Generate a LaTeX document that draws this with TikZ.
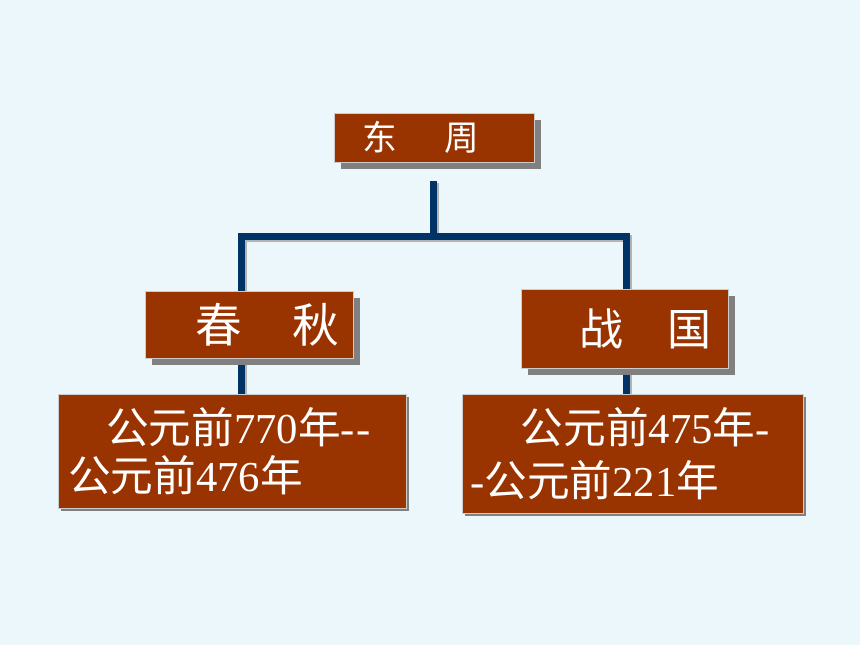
\documentclass[tikz,border=0pt]{standalone}
\usepackage{fontspec}
\setmainfont{Liberation Serif}
\newfontfamily\cjk{Noto Sans CJK SC}
\usetikzlibrary{shadows,backgrounds}
\definecolor{slideback}{RGB}{236,247,252}
\definecolor{periodred}{RGB}{153,51,0}
\definecolor{treeline}{RGB}{0,51,102}
\definecolor{boxshadow}{RGB}{128,128,128}

\begin{document}
\begin{tikzpicture}[x=0.75pt,y=-0.75pt,
  box/.style={fill=periodred,draw=gray!40,line width=0.4pt,text=white,
    anchor=north west,inner xsep=0pt,inner ysep=0pt,align=left},
  period/.style={box,drop shadow={shadow xshift=5.25pt,shadow yshift=-5.25pt,fill=boxshadow,opacity=1}},
  dates/.style={box,drop shadow={shadow xshift=2.25pt,shadow yshift=-2.25pt,fill=boxshadow,opacity=1},
    font=\cjk\fontsize{32}{36}\selectfont},
  link/.style={draw=treeline,line width=5.25pt,
    preaction={draw=boxshadow!60,line width=5.25pt,transform canvas={shift={(1.5pt,-1.5pt)}}}}]
\useasboundingbox (0,0) rectangle (860,645);

% dynasty
\node [period,text width=150pt,minimum height=36.75pt,font=\cjk\fontsize{26}{30}\selectfont]
  (dongzhou) at (334,113) {\hspace*{21.5pt}东\hspace{35.5pt}周};

% the two periods
\node [period,text width=156pt,minimum height=50.25pt,font=\cjk\fontsize{35}{40}\selectfont]
  (chunqiu) at (145,291) {\hspace*{38pt}春\hspace{37.75pt}秋};
\node [period,text width=155.25pt,minimum height=59.25pt,font=\cjk\fontsize{33}{38}\selectfont]
  (zhanguo) at (521,289) {\hspace*{44pt}战\hspace{33pt}国};

% years
\node [dates,text width=261pt,minimum height=85.5pt]
  (chunqiudate) at (58,394)
  {\hspace*{36pt}公元前{\rmfamily 770}年{\rmfamily -\kern1pt-}\\
   \hspace*{7.5pt}公元前{\rmfamily 476}年};
\node [dates,text width=255.75pt,minimum height=89.25pt,
  font=\cjk\fontsize{32}{39.75}\selectfont]
  (zhanguodate) at (462,394)
  {\hspace*{44pt}公元前{\rmfamily 475}年{\rmfamily -}\\
   \hspace*{6pt}{\rmfamily -}公元前{\rmfamily 221}年};

\coordinate (stemtop) at (433.5,181);
\coordinate (fork) at (433.5,236.5);
\coordinate (leftfork) at (241.5,236.5);
\coordinate (rightfork) at (626.5,236.5);

\begin{pgfonlayer}{background}
\fill [slideback] (0,0) rectangle (860,645);
\draw [link] (stemtop) -- (fork);
\draw [link] (chunqiu.north -| leftfork) -- (leftfork) -- (rightfork) -- (zhanguo.north -| rightfork);
\draw [link] (chunqiu.south -| leftfork) -- (chunqiudate.north -| leftfork);
\draw [link] (zhanguo.south -| rightfork) -- (zhanguodate.north -| rightfork);
\end{pgfonlayer}
\end{tikzpicture}
\end{document}
